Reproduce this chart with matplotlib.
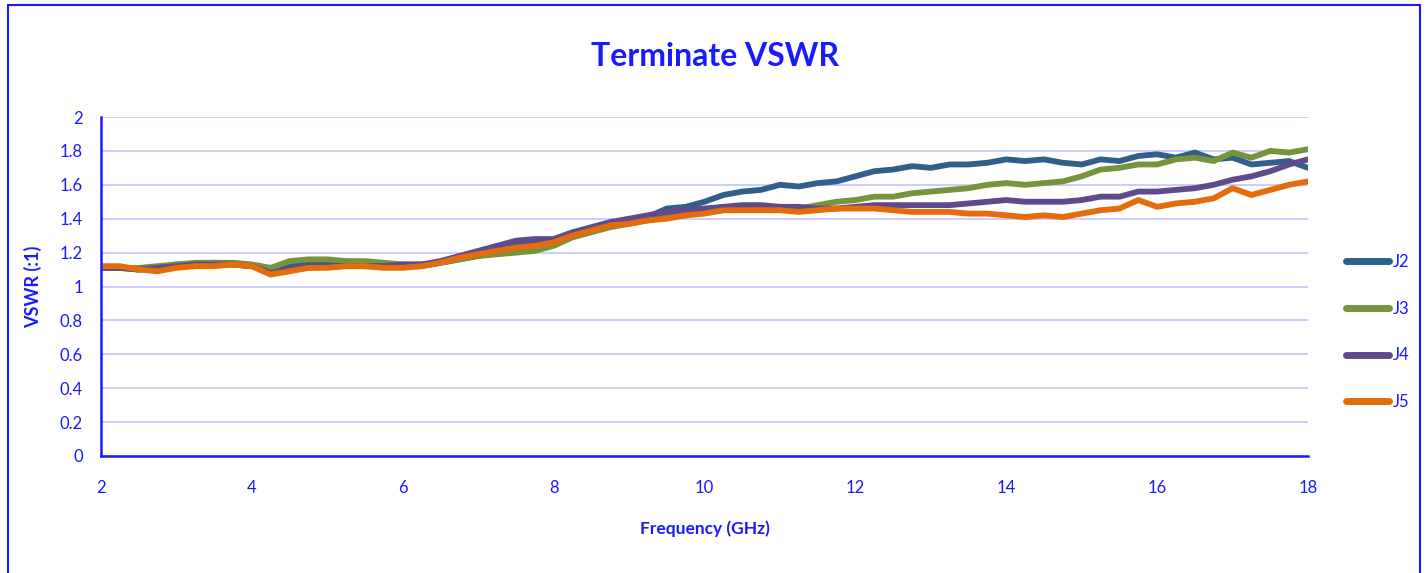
import matplotlib.pyplot as plt
from matplotlib.patches import Rectangle

freq = [2.00, 2.25, 2.50, 2.75, 3.00, 3.25, 3.50, 3.75, 4.00, 4.25, 4.50, 4.75,
        5.00, 5.25, 5.50, 5.75, 6.00, 6.25, 6.50, 6.75, 7.00, 7.25, 7.50, 7.75,
        8.00, 8.25, 8.50, 8.75, 9.00, 9.25, 9.50, 9.75, 10.00, 10.25, 10.50, 10.75,
        11.00, 11.25, 11.50, 11.75, 12.00, 12.25, 12.50, 12.75, 13.00, 13.25, 13.50, 13.75,
        14.00, 14.25, 14.50, 14.75, 15.00, 15.25, 15.50, 15.75, 16.00, 16.25, 16.50, 16.75,
        17.00, 17.25, 17.50, 17.75, 18.00]

j2 = [1.11, 1.11, 1.10, 1.11, 1.13, 1.13, 1.14, 1.13, 1.12, 1.09, 1.12, 1.13,
      1.13, 1.13, 1.12, 1.12, 1.12, 1.12, 1.14, 1.16, 1.18, 1.21, 1.24, 1.26,
      1.27, 1.31, 1.33, 1.36, 1.39, 1.41, 1.46, 1.47, 1.50, 1.54, 1.56, 1.57,
      1.60, 1.59, 1.61, 1.62, 1.65, 1.68, 1.69, 1.71, 1.70, 1.72, 1.72, 1.73,
      1.75, 1.74, 1.75, 1.73, 1.72, 1.75, 1.74, 1.77, 1.78, 1.76, 1.79, 1.75,
      1.76, 1.72, 1.73, 1.74, 1.70]

j3 = [1.11, 1.11, 1.11, 1.12, 1.13, 1.14, 1.14, 1.14, 1.13, 1.11, 1.15, 1.16,
      1.16, 1.15, 1.15, 1.14, 1.13, 1.13, 1.14, 1.16, 1.18, 1.19, 1.20, 1.21,
      1.24, 1.29, 1.32, 1.35, 1.37, 1.39, 1.41, 1.42, 1.44, 1.45, 1.46, 1.46,
      1.46, 1.46, 1.48, 1.50, 1.51, 1.53, 1.53, 1.55, 1.56, 1.57, 1.58, 1.60,
      1.61, 1.60, 1.61, 1.62, 1.65, 1.69, 1.70, 1.72, 1.72, 1.75, 1.76, 1.74,
      1.79, 1.76, 1.80, 1.79, 1.81]

j4 = [1.11, 1.11, 1.10, 1.11, 1.12, 1.13, 1.13, 1.13, 1.12, 1.08, 1.10, 1.11,
      1.12, 1.12, 1.12, 1.12, 1.13, 1.13, 1.15, 1.18, 1.21, 1.24, 1.27, 1.28,
      1.28, 1.32, 1.35, 1.38, 1.40, 1.42, 1.44, 1.45, 1.46, 1.47, 1.48, 1.48,
      1.47, 1.47, 1.46, 1.46, 1.47, 1.48, 1.48, 1.48, 1.48, 1.48, 1.49, 1.50,
      1.51, 1.50, 1.50, 1.50, 1.51, 1.53, 1.53, 1.56, 1.56, 1.57, 1.58, 1.60,
      1.63, 1.65, 1.68, 1.72, 1.75]

j5 = [1.12, 1.12, 1.10, 1.09, 1.11, 1.12, 1.12, 1.13, 1.12, 1.07, 1.09, 1.11,
      1.11, 1.12, 1.12, 1.11, 1.11, 1.12, 1.14, 1.17, 1.19, 1.21, 1.23, 1.24,
      1.26, 1.30, 1.33, 1.36, 1.37, 1.39, 1.40, 1.42, 1.43, 1.45, 1.45, 1.45,
      1.45, 1.44, 1.45, 1.46, 1.46, 1.46, 1.45, 1.44, 1.44, 1.44, 1.43, 1.43,
      1.42, 1.41, 1.42, 1.41, 1.43, 1.45, 1.46, 1.51, 1.47, 1.49, 1.50, 1.52,
      1.58, 1.54, 1.57, 1.60, 1.62]

series = [("J2", j2, "#2F5F8A"), ("J3", j3, "#77933C"),
          ("J4", j4, "#5F4B8B"), ("J5", j5, "#E46C0A")]

BLUE = "#1a1aff"
FONT = ["Lato", "DejaVu Sans"]

fig = plt.figure(figsize=(14.26, 5.73), dpi=100)
fig.patches.append(Rectangle((8 / 1426, -0.1), 1412 / 1426, 1.1 - 5 / 573,
                             transform=fig.transFigure, fill=False,
                             edgecolor=BLUE, linewidth=1.5))

ax = fig.add_axes([101 / 1426, 117 / 573, 1207 / 1426, 339 / 573])

for name, vals, col in series:
    ax.plot(freq, vals, color=col, linewidth=4.2, label=name,
            solid_capstyle="round", solid_joinstyle="round")

ax.set_xlim(2, 18)
ax.set_ylim(0, 2)
ax.set_xticks(range(2, 19, 2))
ax.set_yticks([0, 0.2, 0.4, 0.6, 0.8, 1, 1.2, 1.4, 1.6, 1.8, 2])
ax.set_yticklabels(["0", "0.2", "0.4", "0.6", "0.8", "1", "1.2", "1.4", "1.6", "1.8", "2"])
ax.grid(axis="y", color="#c8c8ff", linewidth=1.3)
ax.set_axisbelow(True)
for s in ["top", "right"]:
    ax.spines[s].set_visible(False)
for s in ["left", "bottom"]:
    ax.spines[s].set_color(BLUE)
    ax.spines[s].set_linewidth(1.8)
ax.tick_params(axis="both", length=0, labelcolor=BLUE, labelsize=12)
ax.tick_params(axis="x", pad=17)
ax.tick_params(axis="y", pad=13)
for lab in ax.get_xticklabels() + ax.get_yticklabels():
    lab.set_family(FONT)

ax.set_xlabel("Frequency (GHz)", color=BLUE, fontsize=12.5, fontweight="bold",
              family=FONT, labelpad=18)
ax.set_ylabel("VSWR (:1)", color=BLUE, fontsize=13, fontweight="bold",
              family=FONT, labelpad=13)
fig.text(715 / 1426, 1 - 57 / 573, "Terminate VSWR", color=BLUE, fontsize=23,
         fontweight="bold", family=FONT, ha="center", va="center")

leg = ax.legend(loc="center left", bbox_to_anchor=(1346 / 1426, 1 - 332 / 573),
                bbox_transform=fig.transFigure, frameon=False, borderpad=0,
                borderaxespad=0, handlelength=2.6, handletextpad=0.2,
                labelspacing=1.85, prop={"family": FONT, "size": 12})
for t in leg.get_texts():
    t.set_color(BLUE)
for h in leg.get_lines():
    h.set_linewidth(5)

fig.savefig("out.png", dpi=100)
